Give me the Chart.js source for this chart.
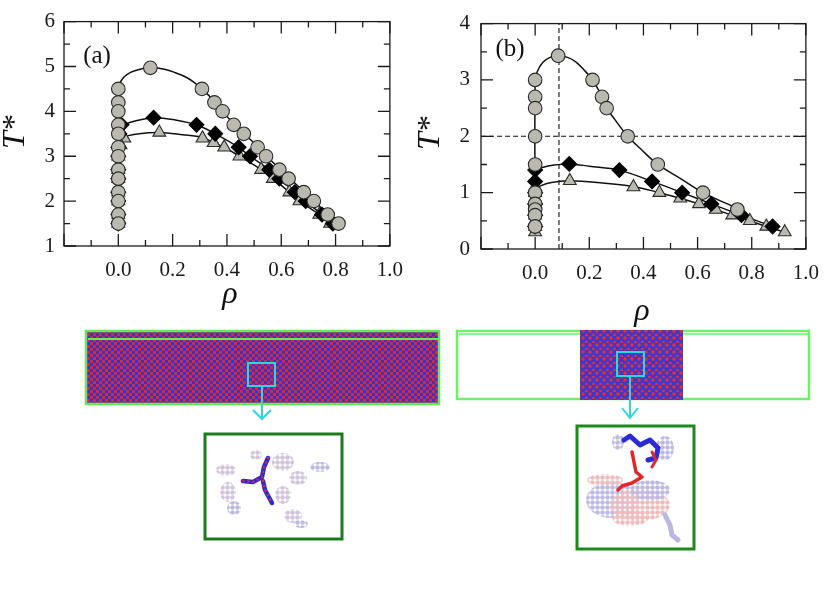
<!DOCTYPE html>
<html lang="en">
<head>
<meta charset="UTF-8">
<title>Coexistence curves</title>
<script src="https://cdn.jsdelivr.net/npm/chart.js"></script>
<style>
  body { margin: 0; background: #fff; }
  #page { position: relative; width: 831px; height: 598px; overflow: hidden; }
  #chartA { position: absolute; left: 0; top: 0; }
  #chartB { position: absolute; left: 415px; top: 0; }
  #snaps { position: absolute; left: 0; top: 0; }
</style>
</head>
<body>
<div id="page">
  <canvas id="chartA" width="415" height="320"></canvas>
  <canvas id="chartB" width="416" height="330"></canvas>

  <!-- simulation snapshots under the two panels -->
  <svg id="snaps" width="831" height="598">
    <defs>
      <pattern id="dense" width="6" height="6" patternUnits="userSpaceOnUse">
        <rect width="6" height="6" fill="#6a2c96"/>
        <circle cx="1.5" cy="1.5" r="1.7" fill="#e02a2a"/>
        <circle cx="4.5" cy="1.5" r="1.7" fill="#3232d6"/>
        <circle cx="1.5" cy="4.5" r="1.7" fill="#3232d6"/>
        <circle cx="4.5" cy="4.5" r="1.7" fill="#d62a3a"/>
      </pattern>
      <pattern id="slab" width="7" height="7" patternUnits="userSpaceOnUse">
        <rect width="7" height="7" fill="#4a34b8"/>
        <circle cx="2" cy="2" r="1.8" fill="#e23030"/>
        <circle cx="5.5" cy="3" r="1.8" fill="#3838e0"/>
        <circle cx="2.5" cy="5.5" r="1.6" fill="#3838e0"/>
        <circle cx="5.5" cy="6.2" r="1.4" fill="#e23030"/>
      </pattern>
      <pattern id="lav" width="5" height="5" patternUnits="userSpaceOnUse">
        <circle cx="2.5" cy="2.5" r="2.3" fill="#bcbae4"/>
      </pattern>
      <pattern id="pink" width="5" height="5" patternUnits="userSpaceOnUse">
        <circle cx="2.5" cy="2.5" r="2.3" fill="#eebcbc"/>
      </pattern>
      <pattern id="mix" width="5" height="5" patternUnits="userSpaceOnUse">
        <circle cx="2.5" cy="2.5" r="2.3" fill="#d2c4dc"/>
      </pattern>
    </defs>

    <!-- (a) homogeneous box -->
    <rect x="86" y="331" width="353" height="73" fill="url(#dense)"/>
    <rect x="86" y="331" width="353" height="73" fill="none" stroke="#62ea5a" stroke-width="2.5"/>
    <line x1="88" y1="339" x2="438" y2="339" stroke="#62ea5a" stroke-width="2"/>
    <rect x="248" y="363" width="27" height="23" fill="none" stroke="#2ad8dc" stroke-width="2"/>
    <line x1="262" y1="386" x2="262" y2="419" stroke="#2ad8dc" stroke-width="2"/>
    <polyline points="253,410 262,419 271,410" fill="none" stroke="#2ad8dc" stroke-width="2"/>

    <!-- (a) zoomed inset -->
    <rect x="205" y="434" width="137" height="105" fill="#fff" stroke="#1c7a1c" stroke-width="3"/>
    <g>
      <ellipse cx="226" cy="470" rx="10" ry="6" fill="url(#mix)"/>
      <ellipse cx="228" cy="492" rx="8" ry="10" fill="url(#mix)"/>
      <ellipse cx="234" cy="508" rx="7" ry="7" fill="url(#lav)"/>
      <ellipse cx="256" cy="455" rx="6" ry="5" fill="url(#mix)"/>
      <ellipse cx="283" cy="462" rx="11" ry="9" fill="url(#mix)"/>
      <ellipse cx="298" cy="478" rx="9" ry="7" fill="url(#mix)"/>
      <ellipse cx="320" cy="467" rx="10" ry="5" fill="url(#lav)"/>
      <ellipse cx="283" cy="495" rx="8" ry="9" fill="url(#mix)"/>
      <ellipse cx="293" cy="516" rx="9" ry="7" fill="url(#mix)"/>
      <ellipse cx="301" cy="524" rx="7" ry="4" fill="url(#lav)"/>
    </g>
    <polyline points="268,458 264,467 262,477 253,482 243,481" fill="none" stroke="#2a2ad8" stroke-width="4.5" stroke-linecap="round" stroke-linejoin="round"/>
    <polyline points="263,481 265,490 272,503" fill="none" stroke="#2a2ad8" stroke-width="4.5" stroke-linecap="round"/>
    <polyline points="268,458 264,467 262,477 253,482 243,481" fill="none" stroke="#e02828" stroke-width="2.5" stroke-dasharray="0 5" stroke-linecap="round"/>
    <polyline points="263,481 265,490 272,503" fill="none" stroke="#e02828" stroke-width="2.5" stroke-dasharray="0 5" stroke-linecap="round"/>

    <!-- (b) slab box -->
    <rect x="457" y="331" width="352" height="68" fill="none" stroke="#72ee6e" stroke-width="2.5"/>
    <line x1="459" y1="334" x2="808" y2="334" stroke="#72ee6e" stroke-width="1.5"/>
    <rect x="580" y="330" width="103" height="70" fill="url(#slab)"/>
    <rect x="617" y="352" width="27" height="24" fill="none" stroke="#2ad8dc" stroke-width="2"/>
    <line x1="630" y1="376" x2="630" y2="418" stroke="#2ad8dc" stroke-width="2"/>
    <polyline points="622,408 630,418 638,408" fill="none" stroke="#2ad8dc" stroke-width="2"/>

    <!-- (b) zoomed inset -->
    <rect x="577" y="426" width="117" height="123" fill="#fff" stroke="#1c8a1c" stroke-width="3"/>
    <g>
      <ellipse cx="612" cy="500" rx="26" ry="18" fill="url(#lav)"/>
      <ellipse cx="640" cy="505" rx="30" ry="16" fill="url(#pink)"/>
      <ellipse cx="605" cy="480" rx="18" ry="6" fill="url(#pink)"/>
      <ellipse cx="650" cy="490" rx="20" ry="10" fill="url(#lav)"/>
      <ellipse cx="630" cy="518" rx="18" ry="8" fill="url(#pink)"/>
      <ellipse cx="665" cy="448" rx="9" ry="12" fill="url(#lav)"/>
      <ellipse cx="618" cy="442" rx="6" ry="8" fill="url(#lav)"/>
      <polyline points="665,515 670,525 672,535 678,540" fill="none" stroke="#b8b8e6" stroke-width="5" stroke-linecap="round"/>
    </g>
    <polyline points="624,440 630,436 640,445 650,440 658,448 656,458 648,460" fill="none" stroke="#2a2ad8" stroke-width="5" stroke-linecap="round" stroke-linejoin="round"/>
    <polyline points="632,452 634,462 636,472 642,477 632,483 622,486 618,490" fill="none" stroke="#e02828" stroke-width="3.5" stroke-linecap="round" stroke-linejoin="round"/>
    <polyline points="652,452 656,460 652,467" fill="none" stroke="#e02828" stroke-width="3" stroke-linecap="round"/>
  </svg>
</div>

<script>
// ---------- panel (a) ----------
const aCircVapT   = [4.5, 4.2, 4.0, 3.7, 3.5, 3.2, 3.0, 2.7, 2.5, 2.2, 2.0, 1.7, 1.5];
const aCircLiqRho = [0.118, 0.308, 0.354, 0.384, 0.425, 0.462, 0.513, 0.544, 0.593, 0.627, 0.683, 0.72, 0.771, 0.811];
const aCircLiqT   = [4.97, 4.5, 4.2, 4.0, 3.7, 3.5, 3.2, 3.0, 2.7, 2.5, 2.2, 2.0, 1.7, 1.5];
const aDiaVapRho  = [0.012, 0.004, 0, 0, 0, 0, 0, 0, 0, 0];
const aDiaVapT    = [3.7, 3.5, 3.2, 3.0, 2.7, 2.5, 2.2, 2.0, 1.7, 1.5];
const aDiaLiqRho  = [0.13, 0.288, 0.357, 0.443, 0.485, 0.556, 0.593, 0.65, 0.69, 0.75, 0.79];
const aDiaLiqT    = [3.86, 3.7, 3.5, 3.2, 3.0, 2.7, 2.5, 2.2, 2.0, 1.7, 1.5];
const aTriVapRho  = [0.022, 0.008, 0, 0, 0, 0, 0, 0, 0];
const aTriVapT    = [3.4, 3.25, 3.0, 2.7, 2.5, 2.2, 2.0, 1.7, 1.5];
const aTriLiqRho  = [0.151, 0.31, 0.351, 0.39, 0.446, 0.526, 0.569, 0.63, 0.667, 0.74, 0.78];
const aTriLiqT    = [3.53, 3.4, 3.3, 3.2, 3.0, 2.7, 2.5, 2.2, 2.0, 1.7, 1.5];
// fitted curves
const aCircFitRho = [0, 0, 0.005, 0.02, 0.045, 0.08, 0.118, 0.17, 0.21, 0.25, 0.28, 0.308, 0.354, 0.425, 0.513, 0.593, 0.683, 0.771, 0.811];
const aCircFitT   = [1.5, 4.5, 4.62, 4.76, 4.87, 4.94, 4.97, 4.94, 4.86, 4.76, 4.64, 4.5, 4.22, 3.72, 3.22, 2.72, 2.22, 1.72, 1.5];
const aDiaFitRho  = [0, 0, 0.02, 0.065, 0.13, 0.21, 0.288, 0.357, 0.443, 0.485, 0.556, 0.593, 0.65, 0.69, 0.75, 0.79];
const aDiaFitT    = [1.5, 3.62, 3.7, 3.79, 3.86, 3.81, 3.7, 3.5, 3.2, 3.0, 2.7, 2.5, 2.2, 2.0, 1.7, 1.5];
const aTriFitRho  = [0, 0, 0.016, 0.077, 0.151, 0.237, 0.31, 0.351, 0.39, 0.446, 0.526, 0.569, 0.63, 0.667, 0.74, 0.78];
const aTriFitT    = [1.5, 3.25, 3.41, 3.5, 3.53, 3.48, 3.42, 3.3, 3.2, 3.0, 2.7, 2.5, 2.2, 2.0, 1.7, 1.5];

// ---------- panel (b) ----------
const bCircVapT   = [3.0, 2.7, 2.5, 2.0, 1.5, 1.0, 0.8, 0.7, 0.6, 0.4];
const bCircLiqRho = [0.085, 0.212, 0.247, 0.264, 0.342, 0.453, 0.62, 0.747];
const bCircLiqT   = [3.43, 3.0, 2.7, 2.5, 2.0, 1.5, 1.0, 0.7];
const bDiaVapT    = [1.4, 1.2, 1.0, 0.8, 0.6, 0.4];
const bDiaLiqRho  = [0.126, 0.311, 0.432, 0.543, 0.651, 0.762, 0.877];
const bDiaLiqT    = [1.51, 1.4, 1.2, 1.0, 0.8, 0.6, 0.4];
const bTriVapT    = [1.1, 1.0, 0.9, 0.8, 0.7, 0.6, 0.5, 0.4, 0.3];
const bTriLiqRho  = [0.128, 0.363, 0.459, 0.536, 0.605, 0.667, 0.728, 0.793, 0.854, 0.922];
const bTriLiqT    = [1.21, 1.1, 1.0, 0.9, 0.8, 0.7, 0.6, 0.5, 0.4, 0.3];
const bCircFitRho = [0, 0, 0.008, 0.028, 0.055, 0.085, 0.12, 0.15, 0.18, 0.212, 0.247, 0.264, 0.294, 0.342, 0.393, 0.453, 0.54, 0.62, 0.747];
const bCircFitT   = [0.35, 3.0, 3.15, 3.31, 3.4, 3.43, 3.4, 3.32, 3.18, 3.0, 2.7, 2.5, 2.3, 2.0, 1.76, 1.5, 1.24, 1.0, 0.72];
const bDiaFitRho  = [0, 0, 0.03, 0.07, 0.126, 0.2, 0.311, 0.432, 0.543, 0.651, 0.762, 0.877];
const bDiaFitT    = [0.4, 1.38, 1.45, 1.49, 1.51, 1.47, 1.4, 1.2, 1.0, 0.8, 0.6, 0.4];
const bTriFitRho  = [0, 0, 0.02, 0.06, 0.128, 0.25, 0.363, 0.459, 0.536, 0.605, 0.667, 0.728, 0.793, 0.854, 0.922];
const bTriFitT    = [0.3, 1.05, 1.12, 1.18, 1.21, 1.17, 1.11, 1.0, 0.9, 0.8, 0.7, 0.6, 0.5, 0.4, 0.3];
// dashed guides in (b)
const bGuideRho = 0.088;
const bGuideT = 2;

const xTicks = [0.0, 0.2, 0.4, 0.6, 0.8, 1.0];

Chart.defaults.font.family = '"Liberation Serif", "Times New Roman", serif';
Chart.defaults.color = '#1a1a1a';

function pts(xs, ys) { return xs.map((v, i) => ({ x: v, y: ys[i] })); }
function zeros(n) { return new Array(n).fill(0); }

const grey = '#b9b9b0';

function markers(data, style, order) {
    const dark = style === 'rectRot';
    return {
        data: data, showLine: false, pointStyle: style,
        pointRadius: style === 'circle' ? 6.8 : 7.4,
        pointBackgroundColor: dark ? '#000' : grey,
        pointBorderColor: dark ? '#000' : '#2b2b2b',
        pointBorderWidth: 1.1, order: order
    };
}
function fit(data) {
    return { data: data, showLine: true, borderColor: '#111', borderWidth: 1.5, pointRadius: 0, tension: 0.35, order: 10 };
}
function guide(data) {
    return { data: data, showLine: true, borderColor: '#111', borderWidth: 1.1, borderDash: [5, 3], pointRadius: 0, tension: 0, order: 11 };
}

// box, inward ticks on all sides, panel tag and axis titles
const framePlugin = {
    id: 'frame',
    afterDraw(chart, args, o) {
        const { ctx, chartArea: a, scales: { x, y } } = chart;
        ctx.save();
        ctx.strokeStyle = '#1a1a1a';
        ctx.lineWidth = 1.3;
        ctx.strokeRect(a.left, a.top, a.right - a.left, a.bottom - a.top);
        const nx = Math.round((x.max - x.min) / 0.1);
        for (let i = 0; i <= nx; i++) {
            const v = x.min + i * 0.1;
            const len = (i % 2 === 0) ? 12 : 6;
            const p = x.getPixelForValue(v);
            ctx.beginPath();
            ctx.moveTo(p, a.bottom); ctx.lineTo(p, a.bottom - len);
            ctx.moveTo(p, a.top); ctx.lineTo(p, a.top + len);
            ctx.stroke();
        }
        const ny = Math.round((y.max - y.min) / 0.5);
        for (let i = 0; i <= ny; i++) {
            const v = y.min + i * 0.5;
            const len = (i % 2 === 0) ? 12 : 6;
            const p = y.getPixelForValue(v);
            ctx.beginPath();
            ctx.moveTo(a.left, p); ctx.lineTo(a.left + len, p);
            ctx.moveTo(a.right, p); ctx.lineTo(a.right - len, p);
            ctx.stroke();
        }
        ctx.fillStyle = '#111';
        ctx.textBaseline = 'middle';
        ctx.textAlign = 'center';
        ctx.font = '25px "Liberation Serif"';
        ctx.fillText(o.tag, o.tagX, o.tagY);
        // rho
        ctx.font = 'italic 32px "Liberation Serif"';
        ctx.fillText('\u03C1', o.rhoX, o.rhoY);
        // T*
        ctx.translate(o.tX, o.tY);
        ctx.rotate(-Math.PI / 2);
        ctx.font = 'italic 32px "Liberation Serif"';
        const wT = ctx.measureText('T').width;
        ctx.font = '32px "Liberation Serif"';
        const wS = ctx.measureText('*').width;
        ctx.textAlign = 'left';
        ctx.font = 'italic 32px "Liberation Serif"';
        ctx.fillText('T', -(wT + wS) / 2, 0);
        ctx.font = '32px "Liberation Serif"';
        ctx.fillText('*', -(wT + wS) / 2 + wT + 1, 0);
        ctx.restore();
    }
};

function makePanel(id, p) {
    return new Chart(document.getElementById(id), {
        type: 'scatter',
        data: { datasets: p.datasets },
        options: {
            responsive: false,
            animation: false,
            events: [],
            layout: { padding: p.padding },
            plugins: {
                legend: { display: false },
                tooltip: { enabled: false },
                frame: p.frame
            },
            scales: {
                x: {
                    type: 'linear', min: -0.2, max: 1.0,
                    afterFit: s => { s.height = 60; },
                    afterBuildTicks: s => { s.ticks = xTicks.map(v => ({ value: v })); },
                    grid: { display: false, drawTicks: false },
                    border: { display: false },
                    ticks: { padding: 12, font: { size: 21 }, maxRotation: 0, autoSkip: false,
                             callback: v => Number(v).toFixed(1) }
                },
                y: {
                    type: 'linear', min: p.yMin, max: p.yMax,
                    afterFit: s => { s.width = p.yWidth; },
                    grid: { display: false, drawTicks: false },
                    border: { display: false },
                    ticks: { stepSize: 1, padding: p.yPad, font: { size: 21 } }
                }
            }
        },
        plugins: [framePlugin]
    });
}

makePanel('chartA', {
    yMin: 1, yMax: 6, yWidth: 64, yPad: 9,
    padding: { left: 0, top: 19, right: 25, bottom: 14 },
    frame: { tag: '(a)', tagX: 97, tagY: 56, rhoX: 230, rhoY: 295, tX: 16, tY: 132 },
    datasets: [
        markers(pts(zeros(aCircVapT.length), aCircVapT).concat(pts(aCircLiqRho, aCircLiqT)), 'circle', 1),
        markers(pts(aDiaVapRho, aDiaVapT).concat(pts(aDiaLiqRho, aDiaLiqT)), 'rectRot', 2),
        markers(pts(aTriVapRho, aTriVapT).concat(pts(aTriLiqRho, aTriLiqT)), 'triangle', 3),
        fit(pts(aCircFitRho, aCircFitT)),
        fit(pts(aDiaFitRho, aDiaFitT)),
        fit(pts(aTriFitRho, aTriFitT))
    ]
});

makePanel('chartB', {
    yMin: 0, yMax: 4, yWidth: 66, yPad: 11,
    padding: { left: 0, top: 18, right: 24, bottom: 21 },
    frame: { tag: '(b)', tagX: 95, tagY: 49, rhoX: 227, rhoY: 312, tX: 16, tY: 133 },
    datasets: [
        markers(pts(zeros(bCircVapT.length), bCircVapT).concat(pts(bCircLiqRho, bCircLiqT)), 'circle', 1),
        markers(pts(zeros(bDiaVapT.length), bDiaVapT).concat(pts(bDiaLiqRho, bDiaLiqT)), 'rectRot', 2),
        markers(pts(zeros(bTriVapT.length), bTriVapT).concat(pts(bTriLiqRho, bTriLiqT)), 'triangle', 3),
        fit(pts(bCircFitRho, bCircFitT)),
        fit(pts(bDiaFitRho, bDiaFitT)),
        fit(pts(bTriFitRho, bTriFitT)),
        guide([{ x: bGuideRho, y: 0 }, { x: bGuideRho, y: 4 }]),
        guide([{ x: -0.2, y: bGuideT }, { x: 1.0, y: bGuideT }])
    ]
});
</script>
</body>
</html>
